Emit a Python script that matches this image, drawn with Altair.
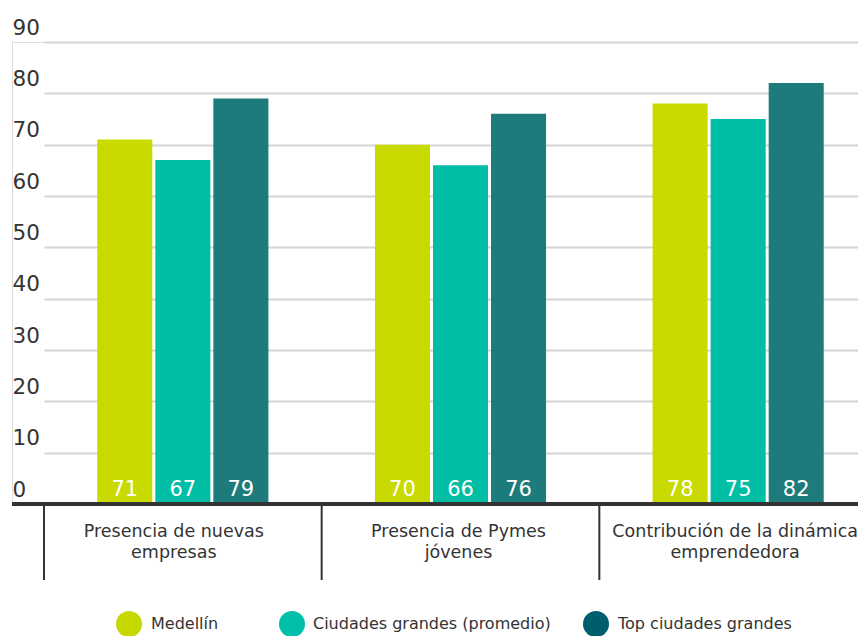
import altair as alt
import pandas as pd

categories = [
    "Presencia de nuevas empresas",
    "Presencia de Pymes jóvenes",
    "Contribución de la dinámica emprendedora",
]
category_labels = [
    "Presencia de nuevas\nempresas",
    "Presencia de Pymes\njóvenes",
    "Contribución de la dinámica\nemprendedora",
]
series = ["Medellín", "Ciudades grandes (promedio)", "Top ciudades grandes"]
medellin = [71, 70, 78]
ciudades = [67, 66, 75]
top_ciudades = [79, 76, 82]
y_ticks = [0, 10, 20, 30, 40, 50, 60, 70, 80, 90]

bar_colors = ["#c8da00", "#00bda6", "#1d7b7b"]
legend_colors = ["#c5d800", "#00bfa8", "#005e6c"]
FONT = "DejaVu Sans"
DARK = "#333333"

rows = []
for i, c in enumerate(categories):
    for s, vals in zip(series, [medellin, ciudades, top_ciudades]):
        rows.append({"cat": c, "serie": s, "valor": vals[i]})
df = pd.DataFrame(rows)
df_cat = pd.DataFrame({"cat": categories, "label": category_labels})

xscale = alt.Scale(domain=categories, range=[32, 865], paddingInner=0, paddingOuter=0)
x = alt.X("cat:N", sort=categories, scale=xscale, axis=None)
xoff = alt.XOffset("serie:N", sort=series,
                   scale=alt.Scale(domain=series, paddingInner=0.0517, paddingOuter=0.918))
y = alt.Y("valor:Q", scale=alt.Scale(domain=[0, 90], nice=False),
          axis=alt.Axis(values=y_ticks, title=None, labelAlign="left",
                        labelBaseline="alphabetic", labelOffset=-8, labelPadding=0,
                        ticks=False, tickSize=0, domain=False, grid=True,
                        gridColor="#d4d4d4", gridWidth=2, labelFontSize=21.5,
                        labelColor=DARK, labelFont=FONT))
color = alt.Color("serie:N", scale=alt.Scale(domain=series, range=bar_colors), legend=None)

bars = alt.Chart(df).mark_bar().encode(x=x, xOffset=xoff, y=y, color=color)

values = alt.Chart(df).mark_text(baseline="alphabetic", dy=-8, color="white",
                                 fontSize=21, font=FONT).encode(
    x=x, xOffset=xoff, y=alt.datum(0), text="valor:Q")

baseline = alt.Chart(df_cat).mark_rule(color=DARK, strokeWidth=4).encode(y=alt.datum(0))

seps = alt.Chart(df_cat).mark_rule(color=DARK, strokeWidth=2).encode(
    x=alt.X("cat:N", sort=categories, scale=xscale, axis=None, bandPosition=0),
    y=alt.value(462), y2=alt.value(538))

label_dx = [-9, -2, -3]
cat_layers = []
for i in range(len(categories)):
    cat_layers.append(
        alt.Chart(df_cat.iloc[[i]]).mark_text(
            baseline="alphabetic", align="center", lineBreak="\n", lineHeight=21,
            fontSize=17.5, color=DARK, font=FONT, dx=label_dx[i]).encode(
            x=x, y=alt.value(495), text="label:N"))

legend_layers = []
circle_x = [117, 280, 584]
text_x = [139, 301, 606]
for i, s in enumerate(series):
    d = alt.Data(values=[{"label": s}])
    legend_layers.append(
        alt.Chart(d).mark_point(shape="circle", filled=True, size=676, opacity=1,
                                color=legend_colors[i]).encode(
            x=alt.value(circle_x[i]), y=alt.value(582)))
    legend_layers.append(
        alt.Chart(d).mark_text(align="left", baseline="middle", fontSize=16,
                               color=DARK, font=FONT).encode(
            x=alt.value(text_x[i]), y=alt.value(582), text="label:N"))

chart = alt.layer(bars, values, baseline, seps, *cat_layers, *legend_layers).properties(
    width=846, height=462,
    autosize=alt.AutoSizeParams(type="none"),
    padding={"left": 4, "top": 34, "right": 0, "bottom": 132},
).configure_view(stroke=None).configure(font=FONT)

chart.save("out.html", embed_options={"renderer": "svg", "actions": False})
